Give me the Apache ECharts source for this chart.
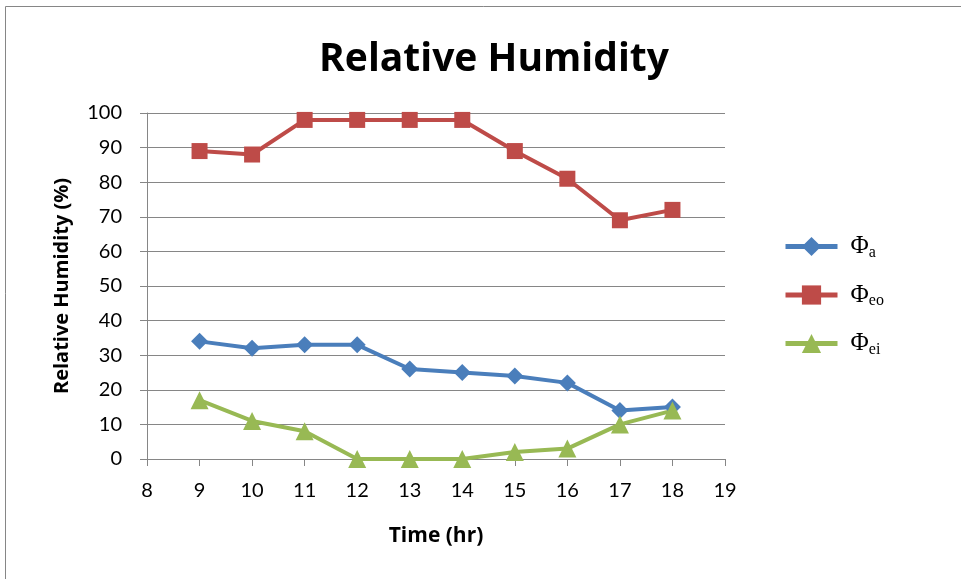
<!DOCTYPE html>
<html>
<head>
<meta charset="utf-8">
<script src="https://cdn.jsdelivr.net/npm/echarts@6/dist/echarts.min.js"></script>
<style>
  html, body { margin: 0; padding: 0; background: #fff; }
  #chart { width: 961px; height: 579px; }
</style>
</head>
<body>
<div id="chart"></div>
<script>
// Hourly relative humidity readings (%)
const hours = [9, 10, 11, 12, 13, 14, 15, 16, 17, 18];
const phiA  = [34, 32, 33, 33, 26, 25, 24, 22, 14, 15];
const phiEo = [89, 88, 98, 98, 98, 98, 89, 81, 69, 72];
const phiEi = [17, 11, 8, 0, 0, 0, 2, 3, 10, 14];

const seriesNames = ['a', 'eo', 'ei'];
const seriesColors = ['#4a7ebb', '#be4b48', '#98b954'];
const seriesSymbols = ['diamond', 'rect', 'triangle'];
const seriesSizes = [17, 16, 18];
const seriesValues = [phiA, phiEo, phiEi];

const chart = echarts.init(document.getElementById('chart'), null, { renderer: 'canvas' });

const series = seriesNames.map((name, i) => ({
  name: name,
  type: 'line',
  data: hours.map((h, j) => [h, seriesValues[i][j]]),
  symbol: seriesSymbols[i],
  symbolSize: seriesSizes[i],
  showAllSymbol: true,
  lineStyle: { width: 4, color: seriesColors[i] },
  itemStyle: { color: seriesColors[i] },
  emphasis: { disabled: true },
  animation: false
}));

chart.setOption({
  animation: false,
  title: {
    text: 'Relative Humidity',
    left: 489,
    top: 35,
    textAlign: 'center',
    textStyle: { fontFamily: 'Open Sans', fontWeight: 'bold', fontSize: 39, color: '#000' }
  },
  graphic: [{
    type: 'rect',
    shape: { x: 5.5, y: 6.5, width: 1000, height: 700 },
    style: { fill: 'none', stroke: '#868686', lineWidth: 1 },
    silent: true
  }],
  legend: {
    orient: 'vertical',
    left: 778,
    top: 229,
    itemWidth: 52,
    itemHeight: 24,
    itemGap: 22,
    data: seriesNames,
    lineStyle: { width: 5 },
    formatter: n => '{p|Φ}{s|' + n + '}',
    textStyle: {
      rich: {
        p: { fontFamily: 'Liberation Serif', fontSize: 25, color: '#000', padding: [0, 0, 0, 8] },
        s: { fontFamily: 'Liberation Serif', fontSize: 16, color: '#000', verticalAlign: 'bottom', padding: [12, 0, 0, 0] }
      }
    }
  },
  grid: { left: 147, right: 236, top: 113, bottom: 120, containLabel: false },
  xAxis: {
    type: 'value',
    min: 8, max: 19, interval: 1,
    name: 'Time (hr)',
    nameLocation: 'middle',
    nameGap: 67,
    nameTextStyle: { fontFamily: 'Open Sans', fontWeight: 'bold', fontSize: 21, color: '#000' },
    axisLine: { show: true, lineStyle: { color: '#868686', width: 1 } },
    axisTick: { show: true, length: 7, inside: false, lineStyle: { color: '#868686' } },
    axisLabel: { fontFamily: 'Lato', fontSize: 20, color: '#000', margin: 22 },
    splitLine: { show: false }
  },
  yAxis: {
    type: 'value',
    min: 0, max: 100, interval: 10,
    name: 'Relative Humidity (%)',
    nameLocation: 'middle',
    nameGap: 75,
    nameRotate: 90,
    nameTextStyle: { fontFamily: 'Open Sans', fontWeight: 'bold', fontSize: 20, color: '#000' },
    axisLine: { show: true, lineStyle: { color: '#868686', width: 1 } },
    axisTick: { show: true, length: 7, inside: false, lineStyle: { color: '#868686' } },
    axisLabel: { fontFamily: 'Lato', fontSize: 20, color: '#000', margin: 25 },
    splitLine: { show: true, lineStyle: { color: '#868686', width: 1 } }
  },
  series: series
});
</script>
</body>
</html>
